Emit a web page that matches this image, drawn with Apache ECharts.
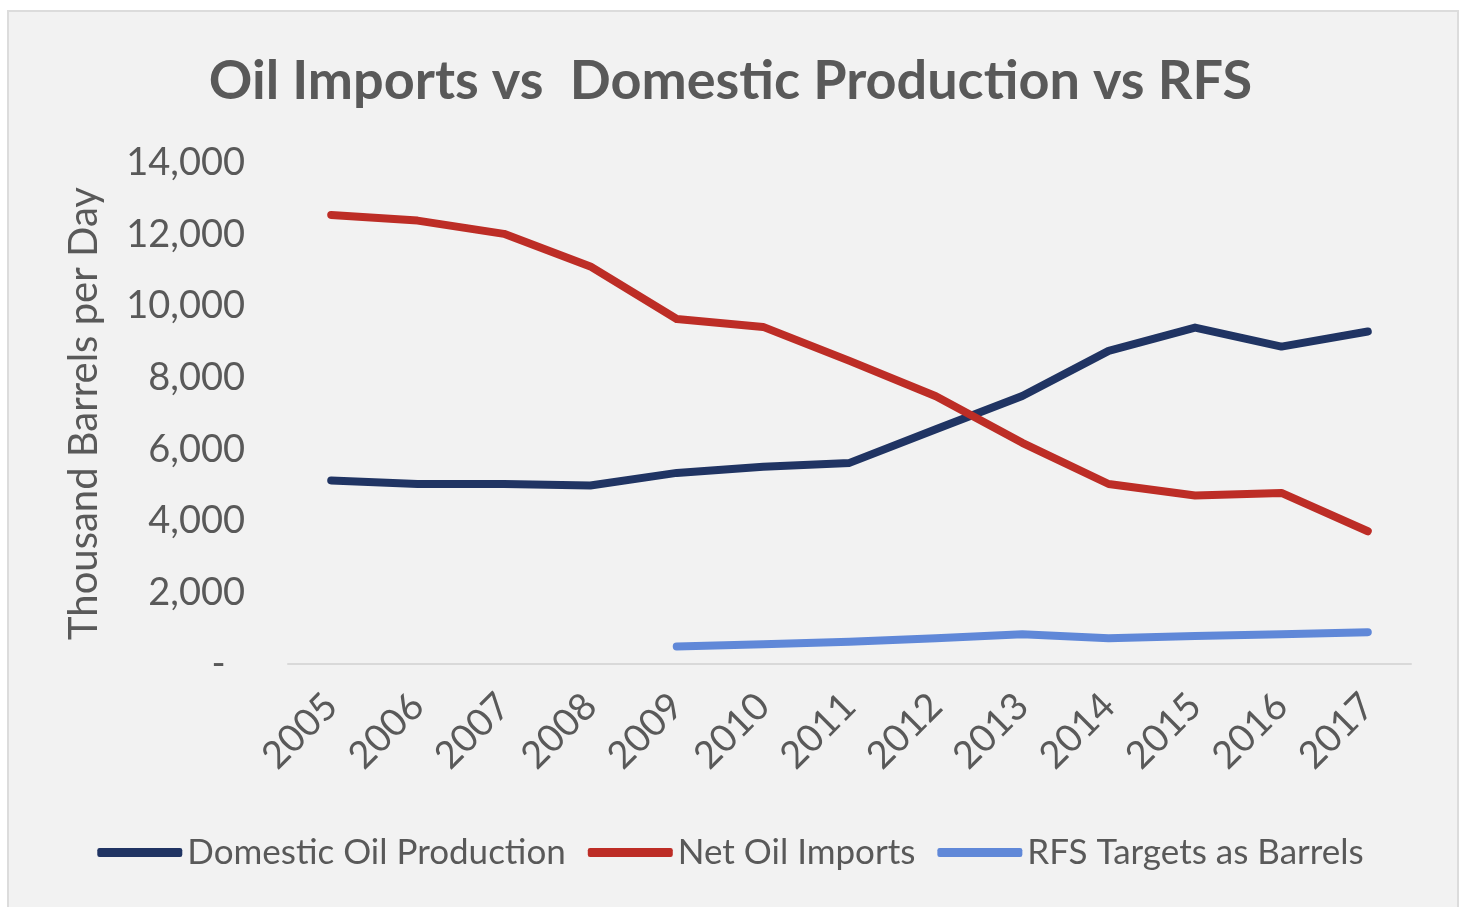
<!DOCTYPE html>
<html>
<head>
<meta charset="utf-8">
<script src="https://cdn.jsdelivr.net/npm/echarts@6/dist/echarts.min.js"></script>
<style>
html,body{margin:0;padding:0;background:#ffffff;width:1461px;height:907px;overflow:hidden;}
#frame{position:absolute;left:7px;top:10px;width:1448px;height:897px;background:#f2f2f2;border:2px solid #dcdcdc;border-bottom:none;}
#chart{position:absolute;left:0;top:0;width:1461px;height:907px;}
</style>
</head>
<body>
<div id="frame"></div>
<div id="chart"></div>
<script>
var years = ['2005','2006','2007','2008','2009','2010','2011','2012','2013','2014','2015','2016','2017'];
var domesticProduction = [5130, 5030, 5030, 4990, 5340, 5510, 5620, 6560, 7490, 8750, 9400, 8870, 9290];
var netImports = [12550, 12390, 12020, 11110, 9640, 9420, 8470, 7480, 6180, 5030, 4710, 4780, 3710];
var rfsTargets = [null, null, null, null, 490, 550, 625, 720, 830, 720, 785, 830, 890];
var seriesNames = ['Domestic Oil Production', 'Net Oil Imports', 'RFS Targets as Barrels'];

var font = 'Lato, "Open Sans", sans-serif';
var chart = echarts.init(document.getElementById('chart'), null, {renderer: 'canvas'});

function lineSeries(name, data, color) {
  return {
    name: name, type: 'line', data: data, symbol: 'none', showSymbol: false,
    lineStyle: {width: 8, color: color, cap: 'round', join: 'round'},
    itemStyle: {color: color},
    connectNulls: false, animation: false
  };
}

chart.setOption({
  backgroundColor: 'transparent',
  animation: false,
  title: {
    text: 'Oil Imports vs  Domestic Production vs RFS',
    left: 'center', top: 50,
    textStyle: {fontFamily: font, fontSize: 54, fontWeight: 'bold', color: '#595959'}
  },
  grid: {left: 288, right: 50, top: 163, bottom: 243, containLabel: false},
  legend: {
    data: seriesNames.map(function (n) { return {name: n, icon: 'roundRect'}; }),
    left: 'center', top: 830,
    itemWidth: 85, itemHeight: 9, itemGap: 22,
    textStyle: {fontFamily: font, fontSize: 35, color: '#595959'}
  },
  xAxis: {
    type: 'category', data: years, boundaryGap: true,
    axisLine: {show: true, lineStyle: {color: '#d9d9d9', width: 2}},
    axisTick: {show: false},
    axisLabel: {rotate: 45, margin: 36, fontFamily: font, fontSize: 38, color: '#595959', interval: 0}
  },
  yAxis: {
    type: 'value', min: 0, max: 14000, interval: 2000,
    name: 'Thousand Barrels per Day', nameLocation: 'middle', nameGap: 184,
    nameTextStyle: {fontFamily: font, fontSize: 40, color: '#595959'},
    axisLine: {show: false}, axisTick: {show: false},
    splitLine: {show: false},
    axisLabel: {
      margin: 43, fontFamily: font, fontSize: 38, color: '#595959',
      formatter: function (v) { return v === 0 ? '-  ' : v.toLocaleString('en-US'); }
    }
  },
  series: [
    lineSeries(seriesNames[0], domesticProduction, '#203463'),
    lineSeries(seriesNames[1], netImports, '#bd2d26'),
    lineSeries(seriesNames[2], rfsTargets, '#6088d8')
  ]
});
</script>
</body>
</html>
